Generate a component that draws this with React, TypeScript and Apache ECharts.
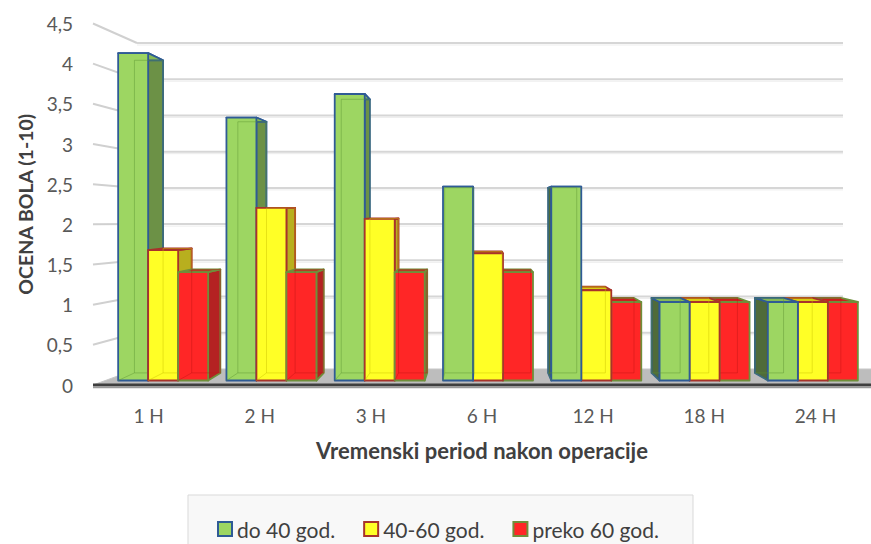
import { useEffect, useRef } from "react";
import * as echarts from "echarts";

// Pain score (1-10) by time after surgery, grouped by patient age
const categories = ["1 H", "2 H", "3 H", "6 H", "12 H", "18 H", "24 H"];
const seriesNames = ["do 40 god.", "40-60 god.", "preko 60 god."];
const do40 = [4.17, 3.35, 3.65, 2.47, 2.47, 1, 1];
const od40do60 = [1.66, 2.2, 2.06, 1.62, 1.15, 1, 1];
const preko60 = [1.38, 1.38, 1.38, 1.38, 1, 1, 1];
const yTicks = [0, 0.5, 1, 1.5, 2, 2.5, 3, 3.5, 4, 4.5];

type Palette = {
  front: string;
  side: string;
  sideLeft: string;
  top: string;
  border: string;
  inner: string;
};

const palettes: Palette[] = [
  { front: "#9DD662", side: "#6C9146", sideLeft: "#4F6B3A", top: "#86B955", border: "#2F5B95", inner: "#5E9434" },
  { front: "#FFFF26", side: "#B8AF1E", sideLeft: "#9A9418", top: "#D9CF10", border: "#A8332B", inner: "#C9C000" },
  { front: "#FF2626", side: "#B42222", sideLeft: "#8E1A1A", top: "#CC1E1E", border: "#6F8F3A", inner: "#C01616" },
];

// vanishing point and depth used for the bar boxes
const VX = 480;
const VY = 212;
const DEPTH = 0.045;
// vanishing point and depth of the back wall / floor
const WALL_VX = 541;
const WALL_VY = 222;
const WALL_DEPTH = 0.0982;
const BACK_RIGHT = 843;

const FONT = "Lato";

function barRenderer(k: number) {
  const pal = palettes[k];
  return (params: any, api: any) => {
    const ci = api.value(0);
    const v = api.value(1);
    const base = api.coord([ci, 0]);
    const top = api.coord([ci, v]);
    const band = api.size([1, 0])[0];
    const w = band * 0.277;
    const x0 = base[0] + (k - 1.5) * w;
    const x1 = x0 + w;
    const yT = top[1];
    const yB = base[1];
    const back = (p: number[]) => [p[0] + (VX - p[0]) * DEPTH, p[1] + (VY - p[1]) * DEPTH];
    const A = [x0, yT];
    const B = [x1, yT];
    const C = [x1, yB];
    const D = [x0, yB];
    const bA = back(A);
    const bB = back(B);
    const bC = back(C);
    const bD = back(D);
    // boxes left of the vanishing point are painted left to right, the others right to left
    const order = base[0] < VX ? k : 2 - k;
    let j = 0;
    const z = () => order * 10 + j++;
    const stroke = { stroke: pal.border, lineWidth: 1.8, lineJoin: "round" };
    const children: any[] = [];
    if (VX > x1) {
      children.push({ type: "polygon", z2: z(), shape: { points: [B, bB, bC, C] }, style: { fill: pal.side, ...stroke } });
    } else if (VX < x0) {
      children.push({ type: "polygon", z2: z(), shape: { points: [A, bA, bD, D] }, style: { fill: pal.sideLeft, ...stroke } });
    }
    children.push({ type: "polygon", z2: z(), shape: { points: [A, B, bB, bA] }, style: { fill: pal.top, ...stroke } });
    children.push({ type: "polygon", z2: z(), shape: { points: [A, B, C, D] }, style: { fill: pal.front, ...stroke } });
    // hidden edges showing through the translucent box
    children.push({
      type: "polyline",
      z2: z(),
      shape: { points: [bD, bA, bB, bC, bD] },
      style: { stroke: pal.inner, lineWidth: 1, opacity: 0.45, fill: null },
    });
    children.push({
      type: "line",
      z2: z(),
      shape: { x1: D[0], y1: D[1], x2: bD[0], y2: bD[1] },
      style: { stroke: pal.inner, lineWidth: 1, opacity: 0.45 },
    });
    return { type: "group", children };
  };
}

function wallRenderer(params: any, api: any) {
  const v = api.value(1);
  const cs = params.coordSys;
  const fx = cs.x;
  const fy = api.coord([0, v])[1];
  const toBack = (p: number[]) => [p[0] + (WALL_VX - p[0]) * WALL_DEPTH, p[1] + (WALL_VY - p[1]) * WALL_DEPTH];
  const b = toBack([fx, fy]);
  const children: any[] = [];
  if (v === 0) {
    const fr = cs.x + cs.width;
    children.push({
      type: "polygon",
      shape: { points: [[fx, fy], [fr, fy], [BACK_RIGHT + 30, b[1]], b] },
      style: { fill: "#BDBDBD", stroke: "#C8C8C8", lineWidth: 1 },
    });
    children.push({
      type: "line",
      shape: { x1: fx, y1: fy, x2: fr, y2: fy },
      style: { stroke: "#3F3F3F", lineWidth: 3 },
    });
    children.push({
      type: "line",
      shape: { x1: fx, y1: fy + 2.5, x2: fr, y2: fy + 2.5 },
      style: { stroke: "#9A9A9A", lineWidth: 1.5 },
    });
  } else {
    children.push({
      type: "line",
      shape: { x1: fx, y1: fy, x2: b[0], y2: b[1] },
      style: { stroke: "#D0D0D0", lineWidth: 2 },
    });
    children.push({
      type: "line",
      shape: { x1: b[0], y1: b[1], x2: BACK_RIGHT, y2: b[1] },
      style: { stroke: "#D6D6D6", lineWidth: 2 },
    });
    children.push({
      type: "line",
      shape: { x1: b[0], y1: b[1] + 2, x2: BACK_RIGHT, y2: b[1] + 2 },
      style: { stroke: "#EDEDED", lineWidth: 1 },
    });
  }
  return { type: "group", children };
}

export default function App() {
  const ref = useRef<HTMLDivElement>(null);

  useEffect(() => {
    if (!ref.current) return;
    const chart = echarts.init(ref.current, undefined, { renderer: "svg" });
    const values = [do40, od40do60, preko60];

    chart.setOption({
      animation: false,
      backgroundColor: "#FFFFFF",
      graphic: [
        {
          type: "rect",
          z: 0,
          shape: { x: 188, y: 495, width: 505, height: 60 },
          style: { fill: "#F8F8F8", stroke: "#D9D9D9", lineWidth: 1 },
        },
      ],
      legend: {
        data: seriesNames.map((n, i) => ({
          name: n,
          icon: "rect",
          itemStyle: { color: palettes[i].front, borderColor: palettes[i].border, borderWidth: 2 },
        })),
        left: 217,
        top: 517,
        itemWidth: 14,
        itemHeight: 14,
        itemGap: 28,
        padding: 0,
        selectedMode: false,
        textStyle: { fontFamily: FONT, fontSize: 21, color: "#404040", lineHeight: 24 },
      },
      grid: [
        // front plane: axis labels, floor and side wall
        { left: 93, right: -15, top: 23.5, bottom: 159 },
        // plane in which the bars stand
        { left: 109, right: 4, top: 27.25, bottom: 163.5 },
      ],
      xAxis: [
        {
          type: "category",
          gridIndex: 0,
          data: categories,
          axisLine: { show: false },
          axisTick: { show: false },
          axisLabel: { fontFamily: FONT, fontSize: 19, color: "#595959", margin: 21 },
          name: "Vremenski period nakon operacije",
          nameLocation: "middle",
          nameGap: 54,
          nameTextStyle: { fontFamily: FONT, fontSize: 22, fontWeight: "bold", color: "#404040" },
        },
        {
          type: "category",
          gridIndex: 1,
          data: categories,
          show: false,
        },
      ],
      yAxis: [
        {
          type: "value",
          gridIndex: 0,
          min: 0,
          max: 4.5,
          interval: 0.5,
          axisLine: { show: false },
          axisTick: { show: false },
          splitLine: { show: false },
          axisLabel: {
            fontFamily: FONT,
            fontSize: 19,
            color: "#595959",
            margin: 20,
            formatter: (val: number) => String(val).replace(".", ","),
          },
          name: "OCENA BOLA (1-10)",
          nameLocation: "middle",
          nameGap: 56,
          nameTextStyle: { fontFamily: FONT, fontSize: 19.5, fontWeight: "bold", color: "#404040" },
        },
        {
          type: "value",
          gridIndex: 1,
          min: 0,
          max: 4.5,
          show: false,
        },
      ],
      series: [
        {
          type: "custom",
          name: "walls",
          xAxisIndex: 0,
          yAxisIndex: 0,
          z: 1,
          silent: true,
          encode: { x: 0, y: 1 },
          data: yTicks.map((t) => [0, t]),
          renderItem: wallRenderer,
        },
        ...seriesNames.map((name, k) => ({
          type: "custom",
          name,
          xAxisIndex: 1,
          yAxisIndex: 1,
          z: 3,
          encode: { x: 0, y: 1 },
          itemStyle: { color: palettes[k].front, borderColor: palettes[k].border },
          data: values[k].map((v, i) => [i, v]),
          renderItem: barRenderer(k),
        })),
      ],
    });

    return () => chart.dispose();
  }, []);

  return (
    <div
      ref={ref}
      style={{ position: "fixed", left: 0, top: 0, width: 871, height: 544 }}
    />
  );
}
